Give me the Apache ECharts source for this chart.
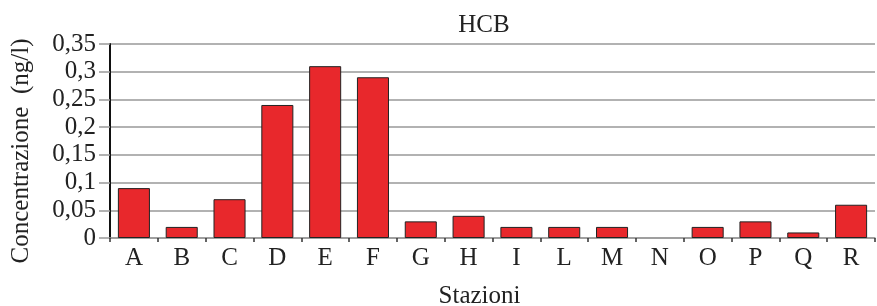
<!DOCTYPE html>
<html>
<head>
<meta charset="utf-8">
<script src="https://cdn.jsdelivr.net/npm/echarts@6/dist/echarts.min.js"></script>
<style>
  html, body { margin: 0; padding: 0; background: #fff; }
  #main { width: 877px; height: 306px; }
</style>
</head>
<body>
<div id="main"></div>
<script>
// stazioni
var stazioni = ['A', 'B', 'C', 'D', 'E', 'F', 'G', 'H', 'I', 'L', 'M', 'N', 'O', 'P', 'Q', 'R'];
// HCB (ng/l) - N senza barra
var hcb = [0.09, 0.02, 0.07, 0.24, 0.31, 0.29, 0.03, 0.04, 0.02, 0.02, 0.02, null, 0.02, 0.03, 0.01, 0.06];

var font = 'Liberation Serif';

var myChart = echarts.init(document.getElementById('main'));
myChart.setOption({
  backgroundColor: '#fff',
  animation: false,
  title: {
    text: 'HCB',
    left: 479,
    top: 8,
    textAlign: 'center',
    textStyle: { fontFamily: font, fontSize: 25, fontWeight: 'normal', color: '#222' }
  },
  grid: { left: 110, right: 2, top: 44, bottom: 68, containLabel: false, outerBoundsMode: 'none' },
  xAxis: {
    type: 'category',
    data: stazioni,
    name: 'Stazioni',
    nameLocation: 'middle',
    nameGap: 46,
    nameTextStyle: { fontFamily: font, fontSize: 25, color: '#222', padding: [0, 26, 0, 0] },
    axisLine: { lineStyle: { color: '#999', width: 1.5 } },
    axisTick: { show: true, length: 4, lineStyle: { color: '#333', width: 1.5 } },
    axisLabel: { fontFamily: font, fontSize: 25, color: '#222', margin: 8 }
  },
  yAxis: {
    type: 'value',
    min: 0,
    max: 0.35,
    interval: 0.05,
    name: 'Concentrazione  (ng/l)',
    nameLocation: 'middle',
    nameGap: 76,
    nameTextStyle: { fontFamily: font, fontSize: 25, color: '#222', padding: [0, 20, 0, 0] },
    axisLine: { show: true, lineStyle: { color: '#111', width: 2 } },
    axisTick: { show: true, length: 11, lineStyle: { color: '#999', width: 1.5 } },
    axisLabel: {
      fontFamily: font, fontSize: 25, color: '#222', margin: 14,
      formatter: function (v) { return String(+v.toFixed(2)).replace('.', ','); }
    },
    splitLine: { lineStyle: { color: '#999', width: 1.5 } }
  },
  series: [{
    type: 'bar',
    data: hcb,
    barCategoryGap: '33%',
    itemStyle: { color: '#e8282c', borderColor: '#222', borderWidth: 1 }
  }]
});
</script>
</body>
</html>
